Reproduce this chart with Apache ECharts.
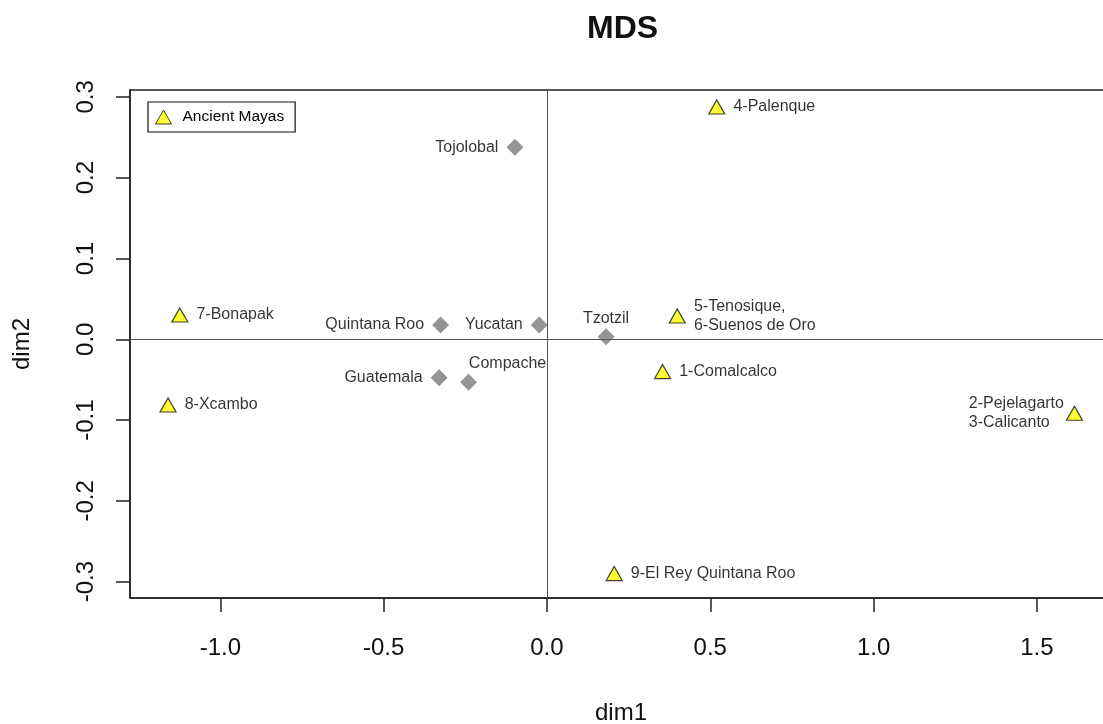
<!DOCTYPE html>
<html>
<head>
<meta charset="utf-8">
<script src="https://cdn.jsdelivr.net/npm/echarts@6/dist/echarts.min.js"></script>
<style>
html,body{margin:0;padding:0;background:#fff;overflow:hidden;width:1103px;height:724px;}
#chart{width:1120px;height:724px;}
</style>
</head>
<body>
<div id="chart"></div>
<script>
// ---- data ----
const ancientNames = ['4-Palenque', '5-Tenosique,\n6-Suenos de Oro', '1-Comalcalco', '7-Bonapak', '8-Xcambo', '2-Pejelagarto\n3-Calicanto', '9-El Rey Quintana Roo'];
const ancientDim1 = [0.520, 0.399, 0.354, -1.124, -1.160, 1.615, 0.206];
const ancientDim2 = [0.2875, 0.0288, -0.0400, 0.0300, -0.0813, -0.0916, -0.2900];

const modernNames = ['Tojolobal', 'Quintana Roo', 'Yucatan', 'Tzotzil', 'Guatemala', 'Compache'];
const modernDim1 = [-0.098, -0.3256, -0.0236, 0.181, -0.330, -0.240];
const modernDim2 = [0.2376, 0.0177, 0.0177, 0.0032, -0.0475, -0.0532];

const xTicks = [-1.0, -0.5, 0.0, 0.5, 1.0, 1.5];
const yTicks = [-0.3, -0.2, -0.1, 0.0, 0.1, 0.2, 0.3];

// ---- label placement (style, kept apart from data) ----
const labelPlacement = {
  '2-Pejelagarto\n3-Calicanto': {position: 'left', distance: 1, align: 'left', offset: [-96, 0]},
  'Tzotzil': {position: 'top', distance: 2},
  'Compache': {position: 'top', distance: 2, offset: [39, 0]}
};

const FONT = '"Liberation Sans", Arial, sans-serif';

function buildData(names, xs, ys, defaultPos) {
  return names.map((n, i) => {
    const p = labelPlacement[n] || {position: defaultPos, distance: 8};
    const lbl = {position: p.position, distance: p.distance};
    if (p.offset) lbl.offset = p.offset;
    if (p.align) lbl.align = p.align;
    return {name: n, value: [xs[i], ys[i]], label: lbl};
  });
}

const chart = echarts.init(document.getElementById('chart'), null, {renderer: 'canvas'});

const option = {
  backgroundColor: '#ffffff',
  animation: false,
  textStyle: {fontFamily: FONT},
  title: {
    text: 'MDS',
    left: 582,
    top: 8,
    textStyle: {fontFamily: FONT, fontSize: 32, fontWeight: 'bold', color: '#111'}
  },
  legend: {
    data: ['Ancient Mayas'],
    left: 148,
    top: 102,
    padding: [7, 11, 7, 7],
    borderColor: '#111',
    borderWidth: 1.2,
    itemWidth: 16,
    itemHeight: 14,
    itemStyle: {borderWidth: 1},
    textStyle: {fontFamily: FONT, fontSize: 15.5, color: '#000', padding: [0, 0, 0, 6]}
  },
  grid: {
    left: 130,
    top: 90,
    width: 982,
    height: 508,
    outerBoundsMode: 'none',
    containLabel: false,
    show: true,
    borderColor: '#222',
    borderWidth: 1.5
  },
  xAxis: {
    type: 'value',
    min: -1.2765,
    max: 1.73,
    name: 'dim1',
    nameLocation: 'middle',
    nameGap: 103,
    nameTextStyle: {fontFamily: FONT, fontSize: 24, color: '#111', verticalAlign: 'top'},
    axisLine: {show: true, onZero: false, lineStyle: {color: '#222', width: 1.5}},
    axisTick: {show: true, length: 14, customValues: xTicks, lineStyle: {color: '#222', width: 1.5}},
    axisLabel: {
      customValues: xTicks,
      fontFamily: FONT, fontSize: 24, color: '#111', margin: 38,
      formatter: v => v.toFixed(1)
    },
    splitLine: {show: false}
  },
  yAxis: {
    type: 'value',
    min: -0.3202,
    max: 0.3085,
    name: 'dim2',
    nameLocation: 'middle',
    nameRotate: 90,
    nameGap: 96,
    nameTextStyle: {fontFamily: FONT, fontSize: 24, color: '#111'},
    axisLine: {show: true, onZero: false, lineStyle: {color: '#222', width: 1.5}},
    axisTick: {show: true, length: 14, customValues: yTicks, lineStyle: {color: '#222', width: 1.5}},
    axisLabel: {
      customValues: yTicks,
      rotate: 90,
      fontFamily: FONT, fontSize: 24, color: '#111', margin: 32,
      formatter: v => v.toFixed(1)
    },
    splitLine: {show: false}
  },
  series: [
    {
      name: 'Modern',
      type: 'scatter',
      symbol: 'diamond',
      symbolSize: [17, 17],
      itemStyle: {color: '#7a7a7a'},
      label: {show: true, formatter: '{b}', fontFamily: FONT, fontSize: 16, color: '#000'},
      data: buildData(modernNames, modernDim1, modernDim2, 'left'),
      markLine: {
        silent: true,
        symbol: 'none',
        label: {show: false},
        lineStyle: {color: '#555', width: 1, type: 'solid'},
        data: [{xAxis: 0}, {yAxis: 0}]
      },
      z: 3
    },
    {
      name: 'Ancient Mayas',
      type: 'scatter',
      symbol: 'triangle',
      symbolSize: [16, 14],
      itemStyle: {color: '#ffff00', borderColor: '#111', borderWidth: 1.2},
      label: {show: true, formatter: '{b}', fontFamily: FONT, fontSize: 16, color: '#000', lineHeight: 19},
      data: buildData(ancientNames, ancientDim1, ancientDim2, 'right'),
      z: 4
    }
  ]
};

chart.setOption(option);
</script>
</body>
</html>
